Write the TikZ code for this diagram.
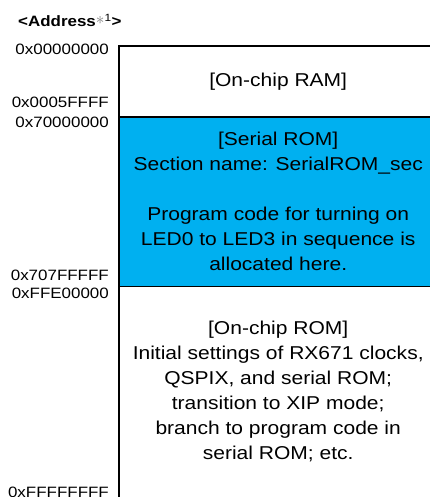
\documentclass[tikz,border=0pt]{standalone}
\usepackage{fontspec}
\setmainfont{Liberation Sans}[FakeStretch=1.13]
\usetikzlibrary{positioning}
\definecolor{romblue}{RGB}{0,176,240}

\begin{document}
\begin{tikzpicture}[x=1pt, y=-1pt,
    addr/.style={anchor=base east, inner sep=0pt, font=\fontsize{15}{18}\selectfont},
    area/.style={anchor=north west, inner sep=0pt, minimum width=318pt, align=center,
                 font=\fontsize{18.6}{25}\selectfont},
    wall/.style={line width=1.7pt}]
    \useasboundingbox (0,0) rectangle (429,497);

    % memory areas
    \node[area, minimum height=71pt] (ram) at (119,46) {[On-chip RAM]};
    \node[area, minimum height=169pt, fill=romblue] (srom) at (119,117)
        {[Serial ROM]\\Section name: SerialROM\_sec\\[25pt]Program code for turning on\\LED0 to LED3 in sequence is\\allocated here.};
    \node[area, minimum height=211pt] (irom) at (119,286)
        {[On-chip ROM]\\Initial settings of RX671 clocks,\\QSPIX, and serial ROM;\\transition to XIP mode;\\branch to program code in\\serial ROM; etc.};

    \draw[wall] (ram.north east) -- (ram.north west) -- (irom.south west);
    \draw[wall] (srom.north west) -- (srom.north east);
    \draw[wall] (srom.south west) -- (srom.south east);

    % addresses
    \node[anchor=base west, inner sep=0pt, font=\fontsize{15}{18}\selectfont\bfseries] (head) at (18,27)
        {<Address\raisebox{2.5pt}{\color{gray}\fontsize{19}{19}\selectfont$\ast$}\textsuperscript{\mdseries 1}>};
    \node[addr] (a0) at (109,55) {0x00000000};
    \node[addr] (a1) at (109,108) {0x0005FFFF};
    \node[addr] (a2) at (109,128) {0x70000000};
    \node[addr] (a3) at (109,280) {0x707FFFFF};
    \node[addr] (a4) at (109,298) {0xFFE00000};
    \node[addr] (a5) at (109,497) {0xFFFFFFFF};
\end{tikzpicture}
\end{document}
